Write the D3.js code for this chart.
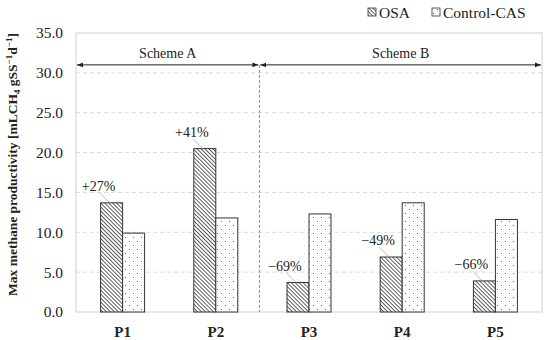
<!DOCTYPE html>
<html>
<head>
<meta charset="utf-8">
<script src="https://cdn.jsdelivr.net/npm/d3@7/dist/d3.min.js"></script>
<style>
  body { margin: 0; background: #fff; }
  svg text { font-family: 'Liberation Serif', 'Tinos', 'DejaVu Serif', serif !important; fill: #222; }
</style>
</head>
<body>
<svg id="chart" width="550" height="340"></svg>
<script>
// data
const categories = ["P1", "P2", "P3", "P4", "P5"];
const osaValues = [13.7, 20.5, 3.7, 6.9, 3.9];
const casValues = [9.9, 11.8, 12.3, 13.7, 11.6];
const changeLabels = ["+27%", "+41%", "\u221269%", "\u221249%", "\u221266%"];
const yTicks = [0, 5, 10, 15, 20, 25, 30, 35];
const schemes = ["Scheme A", "Scheme B"];
const arrowLevel = 31;

const svg = d3.select("svg#chart");
const margin = {left: 76, right: 8, top: 33, bottom: 28};
const width = +svg.attr("width");
const height = +svg.attr("height");

const x = d3.scaleBand().domain(categories)
            .range([margin.left, width - margin.right]).padding(0);
const y = d3.scaleLinear().domain([0, 35])
            .range([height - margin.bottom, margin.top]);
const barW = 22;

// patterns
const defs = svg.append("defs");
const hatch = defs.append("pattern").attr("id", "hatch")
            .attr("patternUnits", "userSpaceOnUse")
            .attr("width", 2.8).attr("height", 2.8)
            .attr("patternTransform", "rotate(-45)");
hatch.append("rect").attr("width", 2.8).attr("height", 2.8).attr("fill", "#fff");
hatch.append("line").attr("x1", 0).attr("y1", 0).attr("x2", 0).attr("y2", 2.8)
            .attr("stroke", "#2a2a2a").attr("stroke-width", 1.5);

const dots = defs.append("pattern").attr("id", "dots")
            .attr("patternUnits", "userSpaceOnUse")
            .attr("width", 8).attr("height", 8);
dots.append("rect").attr("width", 8).attr("height", 8).attr("fill", "#fff");
dots.append("rect").attr("x", 1).attr("y", 1).attr("width", 1).attr("height", 1).attr("fill", "#666");
dots.append("rect").attr("x", 5).attr("y", 5).attr("width", 1).attr("height", 1).attr("fill", "#666");

// gridlines
svg.append("g").selectAll("line.grid").data(yTicks.filter(d => d > 0 && d < 35))
    .join("line").attr("class", "grid")
    .attr("x1", margin.left).attr("x2", width - margin.right)
    .attr("y1", d => y(d)).attr("y2", d => y(d))
    .attr("stroke", "#d9d9d9").attr("stroke-dasharray", "4,3");

// plot border
svg.append("rect")
    .attr("x", margin.left).attr("y", y(35))
    .attr("width", width - margin.right - margin.left)
    .attr("height", y(0) - y(35))
    .attr("fill", "none").attr("stroke", "#d0d0d0");

// y axis
const yAxis = svg.append("g")
    .attr("transform", `translate(${margin.left},0)`)
    .call(d3.axisLeft(y).tickValues(yTicks).tickFormat(d3.format(".1f")).tickSize(0).tickPadding(13));
yAxis.select(".domain").remove();
yAxis.attr("font-family", null);
yAxis.selectAll("text").attr("font-size", "15.5px").attr("fill", "#222");

// x axis
const xAxis = svg.append("g")
    .attr("transform", `translate(0,${y(0)})`)
    .call(d3.axisBottom(x).tickSize(0).tickPadding(14));
xAxis.select(".domain").remove();
xAxis.attr("font-family", null);
xAxis.selectAll("text").attr("font-size", "15px").attr("font-weight", "bold").attr("fill", "#222");

// divider between schemes
const divX = x("P3") - 3;
svg.append("line")
    .attr("x1", divX).attr("x2", divX)
    .attr("y1", y(arrowLevel)).attr("y2", y(0))
    .attr("stroke", "#888").attr("stroke-dasharray", "3,2");

// arrows
defs.append("marker").attr("id", "arrowEnd")
    .attr("viewBox", "0 0 10 10").attr("refX", 10).attr("refY", 5)
    .attr("markerWidth", 6).attr("markerHeight", 6).attr("orient", "auto-start-reverse")
    .append("path").attr("d", "M0,1 L10,5 L0,9 Z").attr("fill", "#222");

schemes.forEach((s, i) => {
  const x0 = i === 0 ? margin.left : divX;
  const x1 = i === 0 ? divX : width - margin.right;
  svg.append("line")
      .attr("x1", x0 + 1).attr("x2", x1 - 1)
      .attr("y1", y(arrowLevel)).attr("y2", y(arrowLevel))
      .attr("stroke", "#222").attr("stroke-width", 1)
      .attr("marker-start", "url(#arrowEnd)").attr("marker-end", "url(#arrowEnd)");
  svg.append("text")
      .attr("x", (x0 + x1) / 2).attr("y", y(arrowLevel) - 7)
      .attr("text-anchor", "middle").attr("font-size", "14px")
      .text(s);
});

// bars
const groups = svg.append("g").selectAll("g.cat").data(categories)
    .join("g").attr("class", "cat");
groups.append("rect")
    .attr("x", d => x(d) + x.bandwidth() / 2 - barW)
    .attr("y", (d, i) => y(osaValues[i]))
    .attr("width", barW)
    .attr("height", (d, i) => y(0) - y(osaValues[i]))
    .attr("fill", "url(#hatch)").attr("stroke", "#333").attr("stroke-width", 1);
groups.append("rect")
    .attr("x", d => x(d) + x.bandwidth() / 2)
    .attr("y", (d, i) => y(casValues[i]))
    .attr("width", barW)
    .attr("height", (d, i) => y(0) - y(casValues[i]))
    .attr("fill", "url(#dots)").attr("stroke", "#333").attr("stroke-width", 1);

// change labels with leader lines
groups.append("line")
    .attr("x1", d => x(d) + x.bandwidth() / 2 - barW - 1)
    .attr("y1", (d, i) => y(osaValues[i]) - 10)
    .attr("x2", d => x(d) + x.bandwidth() / 2 - barW + 9)
    .attr("y2", (d, i) => y(osaValues[i]))
    .attr("stroke", "#aaa").attr("stroke-width", 0.8);
groups.append("text")
    .attr("x", d => x(d) + x.bandwidth() / 2 - barW - 2)
    .attr("y", (d, i) => y(osaValues[i]) - 12)
    .attr("text-anchor", "middle").attr("font-size", "14px")
    .text((d, i) => changeLabels[i]);

// legend
const legend = svg.append("g").attr("transform", "translate(368,4)");
const legendItems = [
  {label: "OSA", fill: "url(#hatch)", dx: 0},
  {label: "Control-CAS", fill: "url(#dots)", dx: 64}
];
legendItems.forEach(l => {
  legend.append("rect").attr("x", l.dx).attr("y", 4)
      .attr("width", 8).attr("height", 8)
      .attr("fill", l.fill).attr("stroke", "#333").attr("stroke-width", 0.8);
  legend.append("text").attr("x", l.dx + 11).attr("y", 13.5)
      .attr("font-size", "15.5px").text(l.label);
});

// y title
const yTitle = svg.append("text")
    .attr("transform", `translate(17,${(y(0) + y(35)) / 2 - 8}) rotate(-90)`)
    .attr("text-anchor", "middle").attr("font-size", "13.5px").attr("font-weight", "bold");
yTitle.append("tspan").text("Max methane productivity [mLCH");
yTitle.append("tspan").attr("font-size", "9px").attr("dy", 3).text("4");
yTitle.append("tspan").attr("dy", -3).text(" gSS");
yTitle.append("tspan").attr("font-size", "9px").attr("dy", -5).text("\u22121");
yTitle.append("tspan").attr("dy", 5).text("d");
yTitle.append("tspan").attr("font-size", "9px").attr("dy", -5).text("\u22121");
yTitle.append("tspan").attr("dy", 5).text("]");
</script>
</body>
</html>
